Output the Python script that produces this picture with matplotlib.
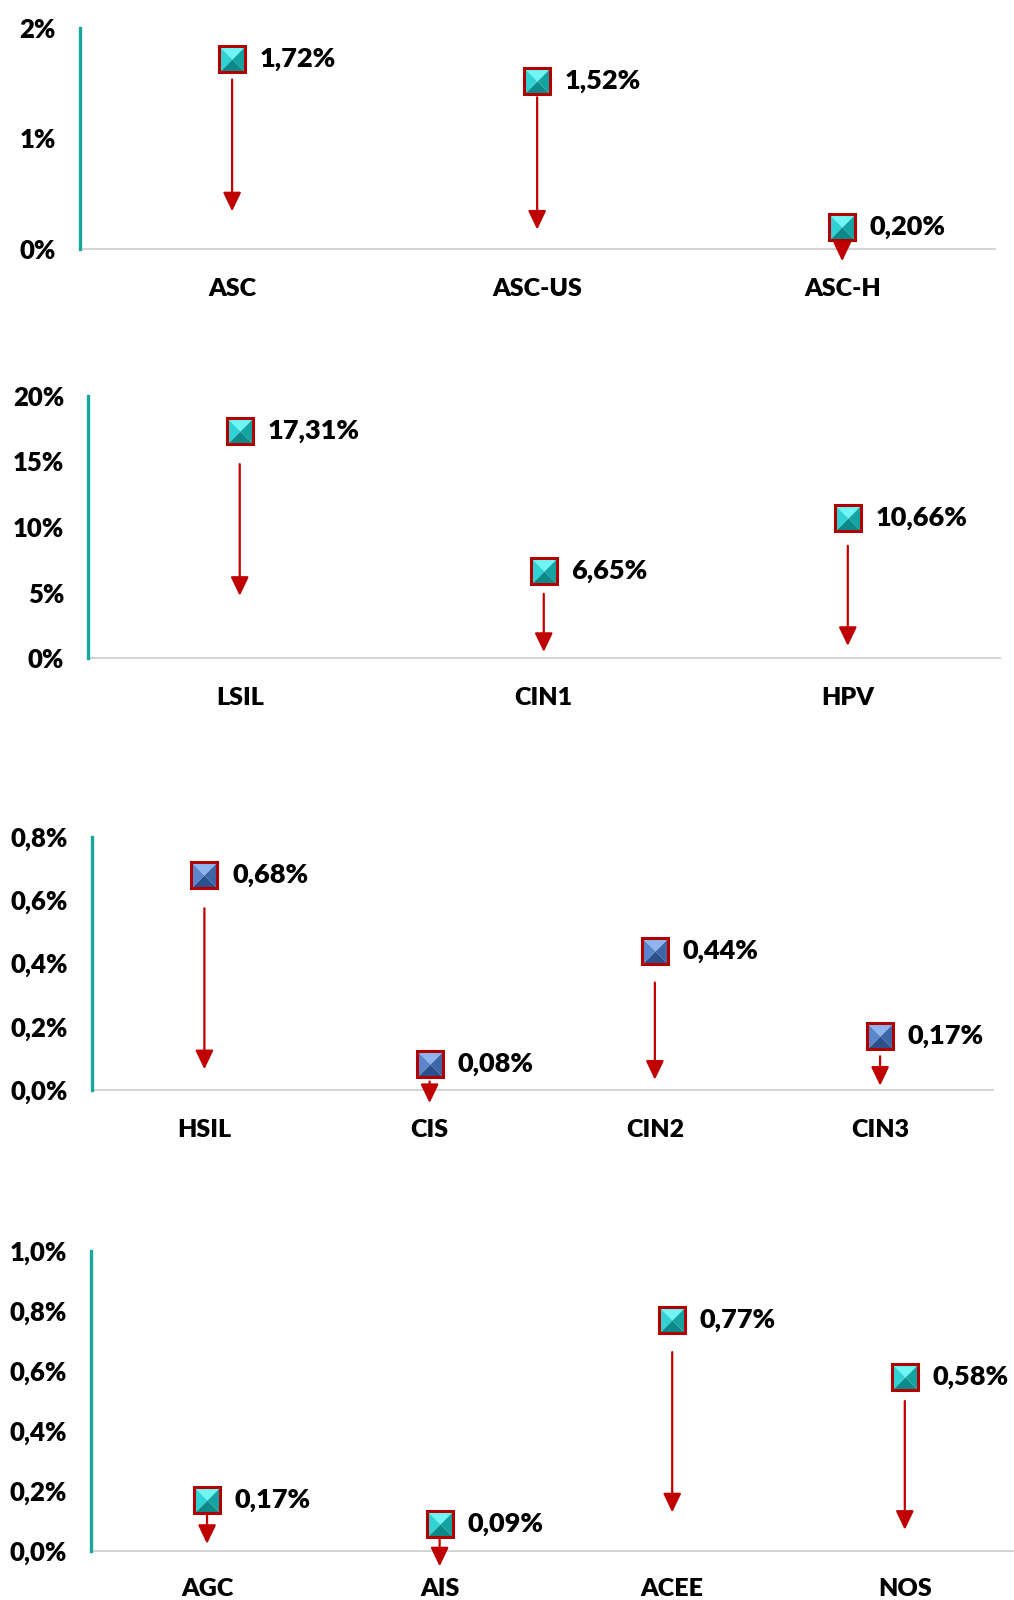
"""Four small dot-and-arrow panels: share of each cytology result, with a red
arrow showing the drop. Values read off the original chart."""

import matplotlib

matplotlib.use("Agg")
import matplotlib.pyplot as plt
from matplotlib import font_manager as fm

# pick the first Calibri-like family that actually ships a bold face
_bold = {f.name for f in fm.fontManager.ttflist if f.weight in (700, "bold", 800, "heavy")}
FAMILY = next(
    (n for n in ["Lato", "Noto Sans", "Open Sans", "Roboto", "Liberation Sans"] if n in _bold),
    "DejaVu Sans",
)
plt.rcParams["font.family"] = [FAMILY, "DejaVu Sans"]
WEIGHT = "heavy"

# ---- data ----
asc_cats = ["ASC", "ASC-US", "ASC-H"]
asc_vals = [1.72, 1.52, 0.20]
asc_arrow_top = [1.53, 1.37, 0.18]
asc_arrow_end = [0.34, 0.175, -0.11]
asc_ticks = [0, 1, 2]
asc_ticklabels = ["0%", "1%", "2%"]

lsil_cats = ["LSIL", "CIN1", "HPV"]
lsil_vals = [17.31, 6.65, 10.66]
lsil_arrow_top = [14.79, 4.90, 8.56]
lsil_arrow_end = [4.75, 0.47, 0.93]
lsil_ticks = [0, 5, 10, 15, 20]
lsil_ticklabels = ["0%", "5%", "10%", "15%", "20%"]

hsil_cats = ["HSIL", "CIS", "CIN2", "CIN3"]
hsil_vals = [0.68, 0.08, 0.44, 0.17]
hsil_arrow_top = [0.574, 0.026, 0.339, 0.106]
hsil_arrow_end = [0.065, -0.042, 0.032, 0.013]
hsil_ticks = [0, 0.2, 0.4, 0.6, 0.8]
hsil_ticklabels = ["0,0%", "0,2%", "0,4%", "0,6%", "0,8%"]

agc_cats = ["AGC", "AIS", "ACEE", "NOS"]
agc_vals = [0.17, 0.09, 0.77, 0.58]
agc_arrow_top = [0.129, 0.051, 0.663, 0.50]
agc_arrow_end = [0.024, -0.051, 0.129, 0.071]
agc_ticks = [0, 0.2, 0.4, 0.6, 0.8, 1.0]
agc_ticklabels = ["0,0%", "0,2%", "0,4%", "0,6%", "0,8%", "1,0%"]

TEAL_AXIS = "#17a89c"
GRID_GREY = "#d0d0d0"
ARROW_RED = "#c00000"
EDGE_RED = "#b00000"

CYAN = {"top": "#6ff5f5", "left": "#2fd3d3", "right": "#14a3a3", "bottom": "#0c8a8a"}
BLUE = {"top": "#8fb4ee", "left": "#5b86cc", "right": "#3d66a8", "bottom": "#2c508c"}

TRIANGLES = {
    "top": [(-1, 1), (1, 1), (0, 0)],
    "left": [(-1, 1), (-1, -1), (0, 0)],
    "right": [(1, 1), (1, -1), (0, 0)],
    "bottom": [(-1, -1), (1, -1), (0, 0)],
}

MS = 18.5


def panel(rect, cats, vals, arrow_top, arrow_end, ticks, ticklabels, shades, label_pad):
    ax = fig.add_axes(rect)
    xs = list(range(len(cats)))
    ax.set_xlim(-0.5, len(cats) - 0.5)
    ax.set_ylim(ticks[0], ticks[-1])

    # arrows first so markers sit on top
    for x, top, end in zip(xs, arrow_top, arrow_end):
        ax.annotate(
            "",
            xy=(x, end),
            xytext=(x, top),
            arrowprops=dict(
                arrowstyle="-|>,head_length=1.15,head_width=0.55",
                color=ARROW_RED,
                lw=1.6,
                shrinkA=0,
                shrinkB=0,
            ),
            annotation_clip=False,
        )

    # bevelled square marker: four shaded triangles + red frame
    for side, verts in TRIANGLES.items():
        ax.plot(xs, vals, ls="none", marker=verts, markersize=MS,
                markerfacecolor=shades[side], markeredgewidth=0, clip_on=False, zorder=4)
    ax.plot(xs, vals, ls="none", marker="s", markersize=MS, markerfacecolor="none",
            markeredgecolor=EDGE_RED, markeredgewidth=2.2, clip_on=False, zorder=5)

    for x, v in zip(xs, vals):
        ax.annotate(
            f"{v:.2f}".replace(".", ",") + "%",
            xy=(x, v),
            xytext=(20, 0),
            textcoords="offset points",
            va="center",
            ha="left",
            fontsize=19.5,
            fontweight=WEIGHT,
            annotation_clip=False,
        )

    ax.set_xticks(xs)
    ax.set_xticklabels(cats, fontsize=18, fontweight=WEIGHT)
    ax.set_yticks(ticks)
    ax.set_yticklabels(ticklabels, fontsize=18.5, fontweight=WEIGHT)
    ax.tick_params(axis="both", length=0)
    ax.tick_params(axis="y", pad=17)
    ax.tick_params(axis="x", pad=label_pad)

    for s in ("top", "right"):
        ax.spines[s].set_visible(False)
    ax.spines["left"].set_color(TEAL_AXIS)
    ax.spines["left"].set_linewidth(2.4)
    ax.spines["bottom"].set_color(GRID_GREY)
    ax.spines["bottom"].set_linewidth(1.3)
    ax.spines["left"].set_zorder(3)
    return ax


fig = plt.figure(figsize=(10.14, 16), dpi=100)

panel((0.0785, 0.8444, 0.9025, 0.1384), asc_cats, asc_vals, asc_arrow_top, asc_arrow_end,
      asc_ticks, asc_ticklabels, CYAN, 21)
panel((0.0865, 0.5887, 0.8995, 0.1639), lsil_cats, lsil_vals, lsil_arrow_top, lsil_arrow_end,
      lsil_ticks, lsil_ticklabels, CYAN, 21)
panel((0.0905, 0.3189, 0.8885, 0.1581), hsil_cats, hsil_vals, hsil_arrow_top, hsil_arrow_end,
      hsil_ticks, hsil_ticklabels, BLUE, 21)
panel((0.0895, 0.0306, 0.9175, 0.1875), agc_cats, agc_vals, agc_arrow_top, agc_arrow_end,
      agc_ticks, agc_ticklabels, CYAN, 19.5)

fig.savefig("out.png", dpi=100)
